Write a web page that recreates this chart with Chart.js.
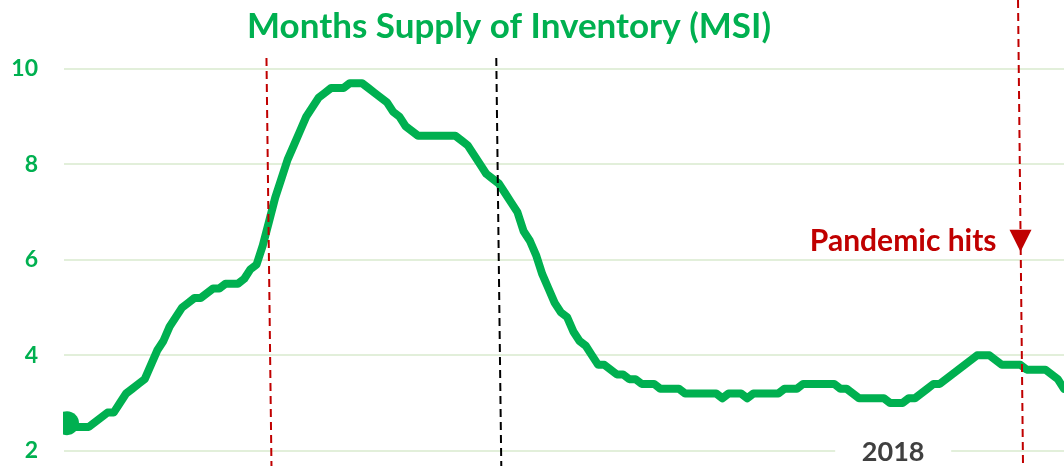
<!DOCTYPE html>
<html>
<head>
<meta charset="utf-8">
<title>Months Supply of Inventory (MSI)</title>
<script src="https://cdn.jsdelivr.net/npm/chart.js@4.4.1/dist/chart.umd.min.js"></script>
<style>
  body { margin: 0; background: #fff; }
  #wrap { width: 1064px; height: 466px; }
</style>
</head>
<body>
<div id="wrap"><canvas id="chart"></canvas></div>
<script>
// monthly, May 2007 .. Oct 2020
const startYear = 2007;
const startMonth = 5;
const monthCount = 162;

const msi = [
  2.6, 2.6, 2.5, 2.5, 2.5, 2.6, 2.7, 2.8, 2.8, 3.0,
  3.2, 3.3, 3.4, 3.5, 3.8, 4.1, 4.3, 4.6, 4.8, 5.0,
  5.1, 5.2, 5.2, 5.3, 5.4, 5.4, 5.5, 5.5, 5.5, 5.6,
  5.8, 5.9, 6.3, 6.8, 7.3, 7.7, 8.1, 8.4, 8.7, 9.0,
  9.2, 9.4, 9.5, 9.6, 9.6, 9.6, 9.7, 9.7, 9.7, 9.6,
  9.5, 9.4, 9.3, 9.1, 9.0, 8.8, 8.7, 8.6, 8.6, 8.6,
  8.6, 8.6, 8.6, 8.6, 8.5, 8.4, 8.2, 8.0, 7.8, 7.7,
  7.6, 7.4, 7.2, 7.0, 6.6, 6.4, 6.1, 5.7, 5.4, 5.1,
  4.9, 4.8, 4.5, 4.3, 4.2, 4.0, 3.8, 3.8, 3.7, 3.6,
  3.6, 3.5, 3.5, 3.4, 3.4, 3.4, 3.3, 3.3, 3.3, 3.3,
  3.2, 3.2, 3.2, 3.2, 3.2, 3.2, 3.1, 3.2, 3.2, 3.2,
  3.1, 3.2, 3.2, 3.2, 3.2, 3.2, 3.3, 3.3, 3.3, 3.4,
  3.4, 3.4, 3.4, 3.4, 3.4, 3.3, 3.3, 3.2, 3.1, 3.1,
  3.1, 3.1, 3.1, 3.0, 3.0, 3.0, 3.1, 3.1, 3.2, 3.3,
  3.4, 3.4, 3.5, 3.6, 3.7, 3.8, 3.9, 4.0, 4.0, 4.0,
  3.9, 3.8, 3.8, 3.8, 3.8, 3.7, 3.7, 3.7, 3.7, 3.6,
  3.5, 3.3
];

const yTicks = [2, 4, 6, 8, 10];

// vertical marker lines
const lineMonths = ['2010-02', '2013-03', '2020-03'];
const lineColors = ['#C00000', '#000000', '#C00000'];

const titleText = 'Months Supply of Inventory (MSI)';
const pandemicMonth = '2020-03';
const pandemicText = 'Pandemic hits';
const yearLabel = '2018';
const yearLabelMonths = ['2018-06', '2018-07'];

const months = [];
for (let i = 0; i < monthCount; i++) {
  const m = startMonth - 1 + i;
  const yr = startYear + Math.floor(m / 12);
  months.push(yr + '-' + String(m % 12 + 1).padStart(2, '0'));
}

const green = '#00B050';
const darkRed = '#C00000';

const markers = {
  id: 'markers',
  afterDatasetsDraw(chart) {
    const { ctx, chartArea, scales: { x, y } } = chart;
    ctx.save();

    // big dot on the first point, cut by the plot edge
    const p0 = chart.getDatasetMeta(0).data[0];
    ctx.save();
    ctx.beginPath();
    ctx.rect(chartArea.left - 1, chartArea.top, chartArea.width + 1, chartArea.height);
    ctx.clip();
    ctx.fillStyle = green;
    ctx.beginPath();
    ctx.arc(p0.x + 3, p0.y + 1, 12, 0, Math.PI * 2);
    ctx.fill();
    ctx.restore();

    // dashed event lines
    lineMonths.forEach((mo, i) => {
      const px = x.getPixelForValue(months.indexOf(mo));
      const top = mo === pandemicMonth ? 0 : y.getPixelForValue(10) - 11;
      ctx.beginPath();
      ctx.setLineDash([8, 5]);
      ctx.lineWidth = 2;
      ctx.strokeStyle = lineColors[i];
      ctx.moveTo(px - 2.5, top);
      ctx.lineTo(px + 2.5, chart.height);
      ctx.stroke();
    });
    ctx.setLineDash([]);

    // pandemic arrow + text
    const pp = x.getPixelForValue(months.indexOf(pandemicMonth));
    const ty = y.getPixelForValue(6) - 30;
    ctx.fillStyle = darkRed;
    ctx.beginPath();
    ctx.moveTo(pp - 11, ty);
    ctx.lineTo(pp + 11, ty);
    ctx.lineTo(pp, ty + 22);
    ctx.closePath();
    ctx.fill();

    ctx.font = 'bold 30px Lato';
    ctx.textAlign = 'right';
    ctx.textBaseline = 'alphabetic';
    ctx.fillText(pandemicText, pp - 24, ty + 21);

    // year label with white box over the gridline
    const yx = (x.getPixelForValue(months.indexOf(yearLabelMonths[0])) +
                x.getPixelForValue(months.indexOf(yearLabelMonths[1]))) / 2;
    const yb = y.getPixelForValue(2);
    ctx.fillStyle = '#ffffff';
    ctx.fillRect(yx - 58, yb - 20, 116, 40);
    ctx.fillStyle = '#404040';
    ctx.font = 'bold 27px Lato';
    ctx.textAlign = 'center';
    ctx.fillText(yearLabel, yx, yb + 10);

    // title
    ctx.fillStyle = green;
    ctx.font = 'bold 35px Lato';
    ctx.textAlign = 'center';
    ctx.fillText(titleText, chartArea.left + 445, 38);

    ctx.restore();
  }
};

new Chart(document.getElementById('chart'), {
  type: 'line',
  data: {
    labels: months,
    datasets: [{
      label: 'MSI',
      data: msi,
      borderColor: green,
      backgroundColor: green,
      borderWidth: 8,
      borderJoinStyle: 'round',
      borderCapStyle: 'round',
      tension: 0,
      pointRadius: 0,
      pointHoverRadius: 0,
      clip: 0
    }]
  },
  options: {
    responsive: true,
    maintainAspectRatio: false,
    animation: false,
    layout: { padding: { top: 50 } },
    plugins: {
      legend: { display: false },
      tooltip: { enabled: false }
    },
    scales: {
      x: {
        display: false
      },
      y: {
        min: 1.97,
        max: 10.397,
        afterBuildTicks: (axis) => { axis.ticks = yTicks.map(v => ({ value: v })); },
        afterFit: (axis) => { axis.width = 64; },
        border: { display: false },
        grid: { color: '#E2EFDA', lineWidth: 2, drawTicks: true, tickLength: 26, tickColor: 'rgba(0,0,0,0)' },
        ticks: {
          color: green,
          padding: 0,
          font: { family: 'Lato', size: 23, weight: 'bold' }
        }
      }
    }
  },
  plugins: [markers]
});
</script>
</body>
</html>
